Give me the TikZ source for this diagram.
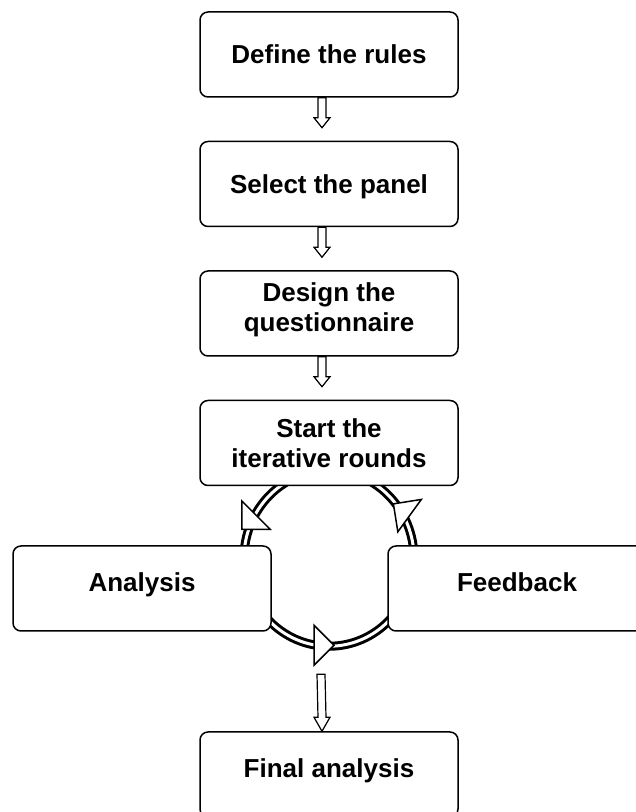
\documentclass[tikz,border=0pt]{standalone}
\usepackage{fontspec}
\setmainfont{Liberation Sans}
\usetikzlibrary{calc,positioning,backgrounds,shapes.geometric}
\tikzset{
  box/.style={draw,line width=1.5pt,rounded corners=8pt,fill=white,minimum width=258pt,minimum height=85pt,inner sep=0pt,align=center,text depth=0pt,font=\bfseries\fontsize{26}{30}\selectfont},
  hi/.style={text depth=13pt},
  ring/.style={ellipse,draw,line width=3pt,double,double distance=3pt,minimum width=170pt,minimum height=176pt,inner sep=0pt,outer sep=0pt},
  hol/.style={draw,line width=1.2pt,fill=white},
  rh/.style={draw,line width=1.5pt,fill=white}
}
\newcommand{\holarrow}[3]{\draw[hol] ($(#1)+(-4,0)$) -- ($(#2)+(-4,#3)$) -- ($(#2)+(-8,#3)$) -- (#2) -- ($(#2)+(8,#3)$) -- ($(#2)+(4,#3)$) -- ($(#1)+(4,0)$) -- cycle;}

\begin{document}
\begin{tikzpicture}[x=1pt,y=1pt]
\useasboundingbox (0,0) rectangle (636,812);
\node[box] (rules) at (329,757.5) {Define the rules};
\node[box,below=43pt of rules] (panel) {Select the panel};
\node[box,hi,below=43pt of panel] (quest) {Design the\\questionnaire};
\node[box,below=43pt of quest] (rounds) {Start the\\iterative rounds};
\node[box,hi,below=59pt of rounds,xshift=-187pt] (anal) {Analysis};
\node[box,hi,below=59pt of rounds,xshift=188pt] (feed) {Feedback};
\node[box,hi,below=245pt of rounds] (final) {Final analysis};
\begin{scope}[on background layer]
\node[ring] (loop) at ([yshift=-72pt]rounds.south) {};
\end{scope}
\foreach \dx/\dy/\rot in {-80/36/135,72.5/48.5/54,-5/-87/270}{\draw[rh,shift={($(loop.center)+(\dx,\dy)$)},rotate=\rot] (0,10) -- (-20,-10) -- (20,-10) -- cycle;}
\holarrow{[xshift=-7pt]rules.south}{[xshift=-7pt,yshift=13pt]panel.north}{10}
\holarrow{[xshift=-7pt]panel.south}{[xshift=-7pt,yshift=13pt]quest.north}{10}
\holarrow{[xshift=-7pt]quest.south}{[xshift=-7pt,yshift=13pt]rounds.north}{10}
\coordinate (fa) at ([xshift=-8pt,yshift=-28pt]loop.south);
\holarrow{fa}{[xshift=-7pt]final.north}{14}
\end{tikzpicture}
\end{document}
